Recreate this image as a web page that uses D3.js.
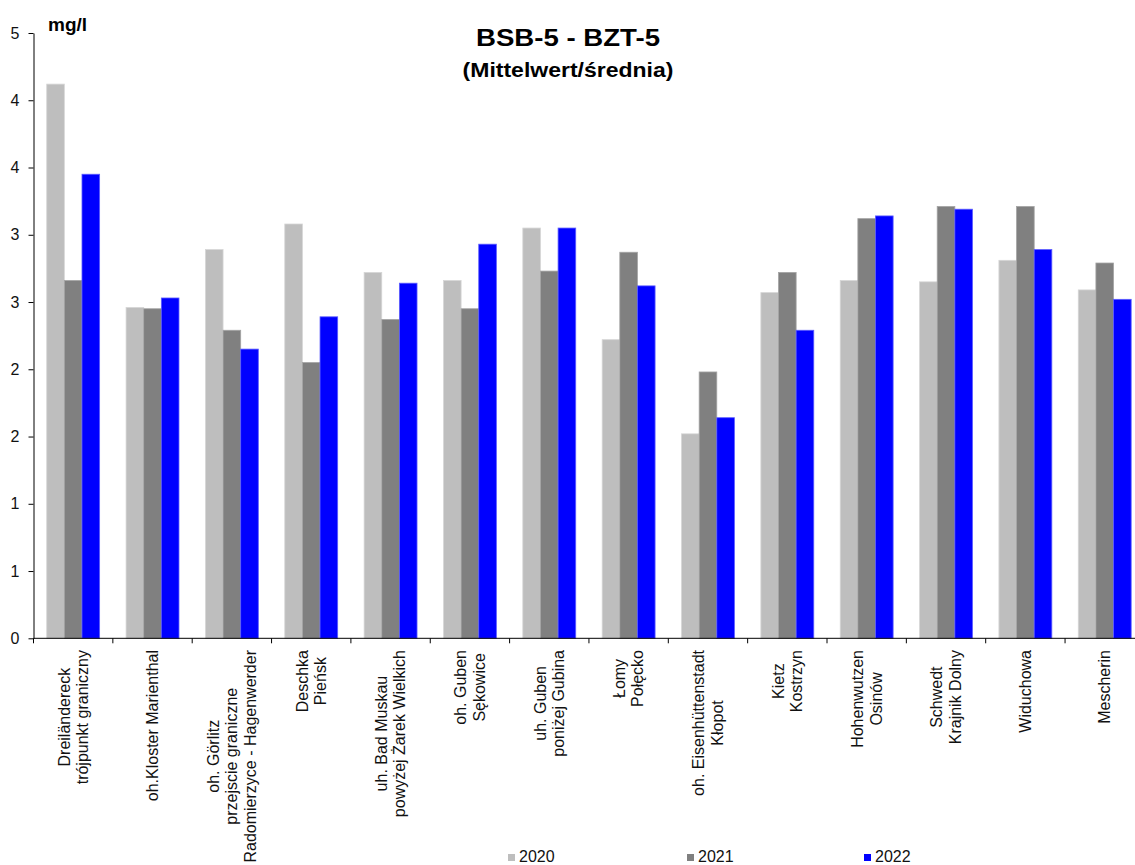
<!DOCTYPE html>
<html>
<head>
<meta charset="utf-8">
<script src="https://cdn.jsdelivr.net/npm/d3@7"></script>
<style>
  body { margin: 0; background: #fff; }
  svg { display: block; font-family: "Liberation Sans", Arial, sans-serif; }
</style>
</head>
<body>
<svg id="chart" width="1135" height="865"></svg>
<script>
// stations, one label line per array entry
const stations = [
  ["Dreiländereck", "trójpunkt graniczny"],
  ["oh.Kloster Marienthal"],
  ["oh. Görlitz", "przejscie graniczne", "Radomierzyce - Hagenwerder"],
  ["Deschka", "Pieńsk"],
  ["uh. Bad Muskau", "powyżej Żarek Wielkich"],
  ["oh. Guben", "Sękowice"],
  ["uh. Guben", "poniżej Gubina"],
  ["Łomy", "Połęcko"],
  ["oh. Eisenhüttenstadt", "Kłopot"],
  ["Kietz", "Kostrzyn"],
  ["Hohenwutzen", "Osinów"],
  ["Schwedt", "Krajnik Dolny"],
  ["Widuchowa"],
  ["Mescherin"]
];
const years = ["2020", "2021", "2022"];
const v2020 = [4.12, 2.46, 2.89, 3.08, 2.72, 2.66, 3.05, 2.22, 1.52, 2.57, 2.66, 2.65, 2.81, 2.59];
const v2021 = [2.66, 2.45, 2.29, 2.05, 2.37, 2.45, 2.73, 2.87, 1.98, 2.72, 3.12, 3.21, 3.21, 2.79];
const v2022 = [3.45, 2.53, 2.15, 2.39, 2.64, 2.93, 3.05, 2.62, 1.64, 2.29, 3.14, 3.19, 2.89, 2.52];
// the original axis has 0.5 steps shown without decimals
const yTicks = [0, 0.5, 1, 1.5, 2, 2.5, 3, 3.5, 4, 4.5];
const yTickLabels = ["0", "1", "1", "2", "2", "3", "3", "4", "4", "5"];

const fills = { "2020": "#bebebe", "2021": "#808080", "2022": "#0000ff" };
const strokes = { "2020": "#d6d6d6", "2021": "#a4a4a4", "2022": "#5c5cff" };

const svg = d3.select("#chart");
const plotLeft = 33.5, plotBottom = 638.3, plotTop = 33;
const step = 79.35;

const x0 = d3.scaleBand()
  .domain(d3.range(stations.length))
  .range([plotLeft, plotLeft + step * stations.length])
  .padding(0);
const x1 = d3.scaleBand()
  .domain(years)
  .range([0, x0.bandwidth()])
  .paddingInner(0)
  .paddingOuter(0.75);
const y = d3.scaleLinear().domain([0, 4.5]).range([plotBottom, plotTop]);

const rows = stations.map((s, i) => ({
  i: i,
  vals: [
    { year: "2020", v: v2020[i] },
    { year: "2021", v: v2021[i] },
    { year: "2022", v: v2022[i] }
  ]
}));

// bars
svg.append("g")
  .selectAll("g")
  .data(rows)
  .join("g")
  .attr("transform", d => `translate(${x0(d.i)},0)`)
  .selectAll("rect")
  .data(d => d.vals)
  .join("rect")
  .attr("x", d => x1(d.year))
  .attr("y", d => y(d.v))
  .attr("width", x1.bandwidth())
  .attr("height", d => plotBottom - y(d.v))
  .attr("fill", d => fills[d.year])
  .attr("stroke", d => strokes[d.year])
  .attr("stroke-width", 0.8);

// y axis
const yAxis = svg.append("g")
  .attr("transform", `translate(${plotLeft},0)`)
  .call(d3.axisLeft(y)
    .tickValues(yTicks)
    .tickFormat((d, i) => yTickLabels[i])
    .tickSize(5)
    .tickPadding(9)
    .tickSizeOuter(0));
yAxis.select(".domain").attr("stroke", "#000");
yAxis.selectAll(".tick line").attr("stroke", "#000");
yAxis.selectAll("text")
  .attr("font-size", 16)
  .attr("font-family", "Liberation Sans, Arial, sans-serif")
  .attr("fill", "#111");

// x axis: line plus ticks on category borders
const xg = svg.append("g");
xg.append("line")
  .attr("x1", plotLeft).attr("x2", 1135)
  .attr("y1", plotBottom).attr("y2", plotBottom)
  .attr("stroke", "#000");
xg.selectAll("line.tk")
  .data(d3.range(stations.length + 1))
  .join("line")
  .attr("class", "tk")
  .attr("x1", d => plotLeft + d * step)
  .attr("x2", d => plotLeft + d * step)
  .attr("y1", plotBottom)
  .attr("y2", plotBottom + 5)
  .attr("stroke", "#000");

// rotated, centred multi-line category labels
const lh = 18.5, labelTop = 650;
const lab = xg.selectAll("g.lab")
  .data(stations)
  .join("g")
  .attr("class", "lab")
  .attr("transform", (d, i) => `translate(${x0(i) + x0.bandwidth() / 2},${labelTop}) rotate(-90)`);
lab.each(function(lines) {
  const g = d3.select(this);
  const ts = g.selectAll("text")
    .data(lines)
    .join("text")
    .attr("font-size", 16)
    .attr("fill", "#111")
    .attr("text-anchor", "middle")
    .attr("y", (d, k) => (k - (lines.length - 1) / 2) * lh)
    .attr("dy", "0.35em")
    .text(d => d);
  let maxW = 0;
  ts.each(function() { maxW = Math.max(maxW, this.getComputedTextLength()); });
  ts.attr("x", -maxW / 2);
});

// titles
svg.append("text")
  .attr("transform", "translate(568,46) scale(1.15,1)")
  .attr("text-anchor", "middle")
  .attr("font-weight", "bold")
  .attr("font-size", 24)
  .text("BSB-5 - BZT-5");
svg.append("text")
  .attr("transform", "translate(568,77) scale(1.15,1)")
  .attr("text-anchor", "middle")
  .attr("font-weight", "bold")
  .attr("font-size", 20)
  .text("(Mittelwert/średnia)");
svg.append("text")
  .attr("x", 48)
  .attr("y", 31)
  .attr("font-weight", "bold")
  .attr("font-size", 19)
  .text("mg/l");

// legend
const legendX = [508, 687, 864];
const leg = svg.append("g")
  .selectAll("g")
  .data(years)
  .join("g")
  .attr("transform", (d, i) => `translate(${legendX[i]},862)`);
leg.append("rect")
  .attr("x", 0).attr("y", -8)
  .attr("width", 7).attr("height", 7)
  .attr("fill", d => fills[d]);
leg.append("text")
  .attr("x", 11)
  .attr("font-size", 16)
  .attr("fill", "#111")
  .text(d => d);
</script>
</body>
</html>
